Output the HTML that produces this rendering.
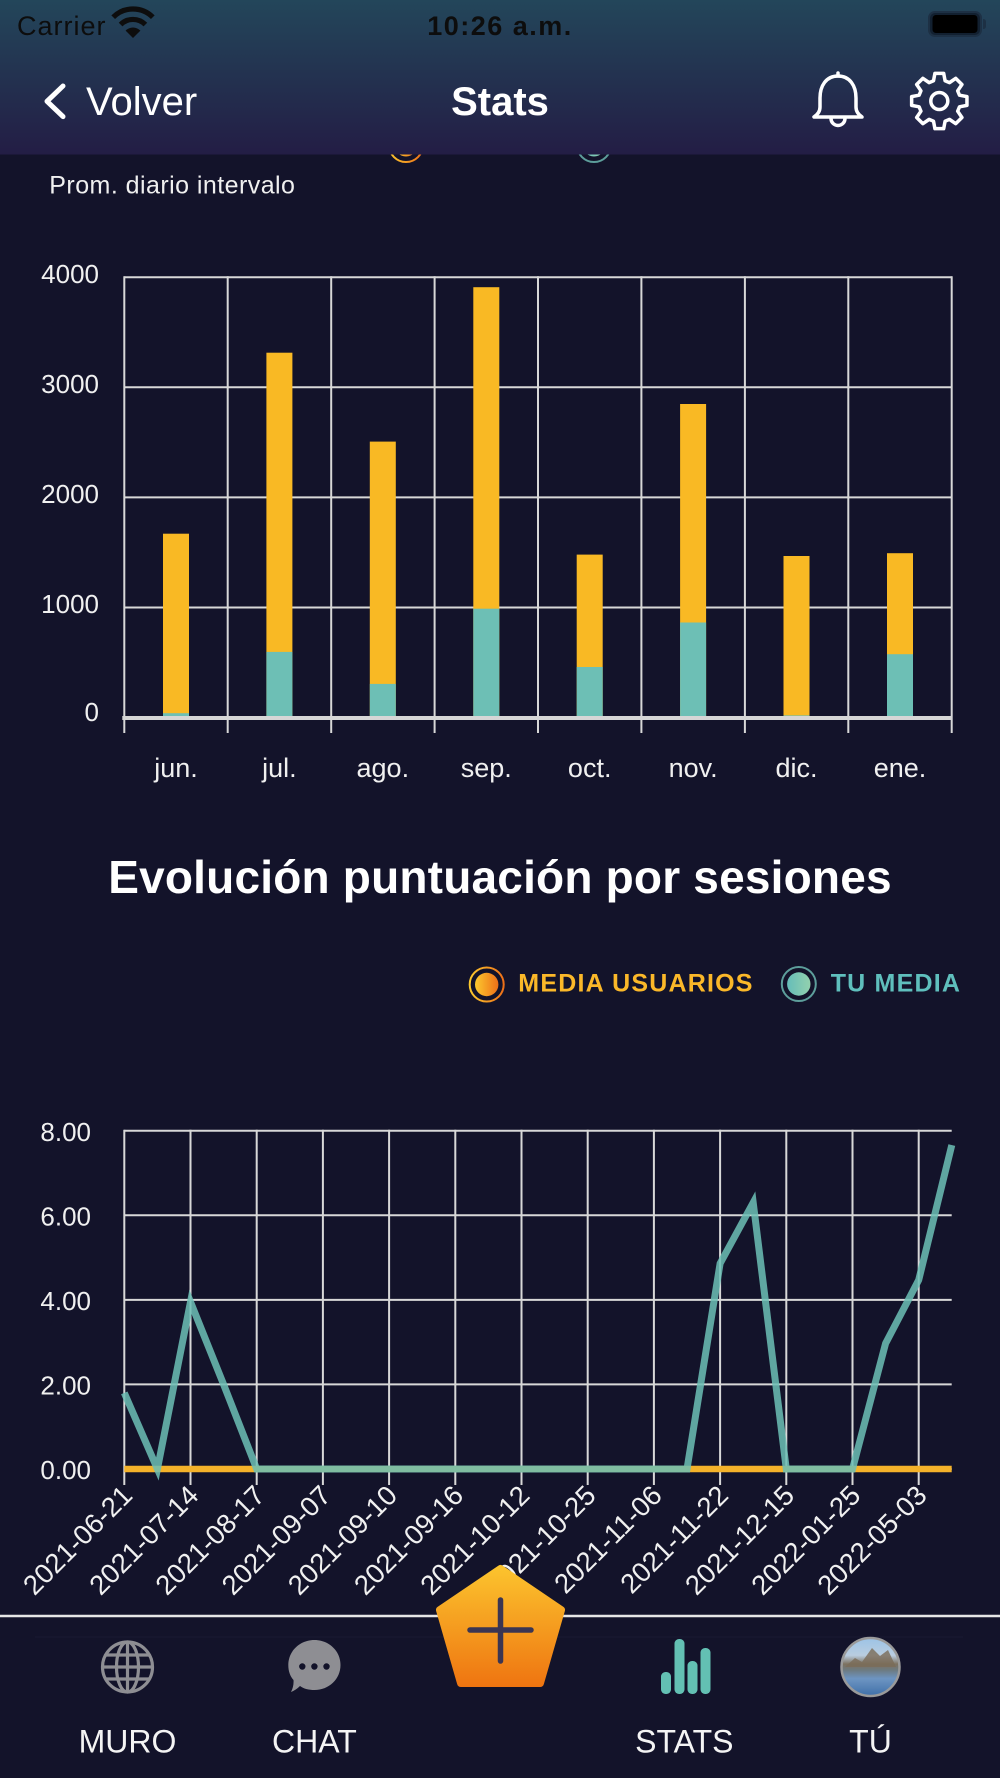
<!DOCTYPE html>
<html>
<head>
<meta charset="utf-8">
<style>
  html, body { margin:0; padding:0; background:#13132a; }
  body { width:1000px; height:1778px; overflow:hidden; }
  svg { display:block; }
  text { font-family: "Liberation Sans", "DejaVu Sans", sans-serif; }
</style>
</head>
<body>
<svg width="1000" height="1778" viewBox="0 0 1000 1778" xmlns="http://www.w3.org/2000/svg">
  <defs>
    <linearGradient id="hdr" x1="0" y1="0" x2="0" y2="1">
      <stop offset="0" stop-color="#23465a"/>
      <stop offset="1" stop-color="#231d45"/>
    </linearGradient>
    <linearGradient id="og" x1="0" y1="0" x2="1" y2="0">
      <stop offset="0" stop-color="#fcc82e"/>
      <stop offset="1" stop-color="#ee7018"/>
    </linearGradient>
    <linearGradient id="tg" x1="0" y1="0" x2="1" y2="0">
      <stop offset="0" stop-color="#66bdb9"/>
      <stop offset="1" stop-color="#93d1ae"/>
    </linearGradient>
    <linearGradient id="fab" gradientUnits="userSpaceOnUse" x1="0" y1="1565" x2="0" y2="1690">
      <stop offset="0" stop-color="#fcc52e"/>
      <stop offset="1" stop-color="#ee7210"/>
    </linearGradient>
    <linearGradient id="av" x1="0" y1="0" x2="0" y2="1">
      <stop offset="0" stop-color="#9cc3e6"/>
      <stop offset="0.3" stop-color="#b9cde0"/>
      <stop offset="0.45" stop-color="#7d715f"/>
      <stop offset="0.55" stop-color="#6d7a80"/>
      <stop offset="0.7" stop-color="#6d95c2"/>
      <stop offset="1" stop-color="#3f6fa8"/>
    </linearGradient>
  </defs>

  <!-- background -->
  <rect x="0" y="0" width="1000" height="1778" fill="#13132a"/>

  <!-- partial legend under header -->
  <circle cx="406" cy="145" r="17" fill="none" stroke="url(#og)" stroke-width="2"/>
  <circle cx="406" cy="145" r="11.5" fill="url(#og)"/>
  <circle cx="594" cy="145" r="17" fill="none" stroke="#5d9e9b" stroke-width="2"/>
  <circle cx="594" cy="145" r="11.5" fill="url(#tg)"/>

  <!-- header -->
  <rect x="0" y="0" width="1000" height="154.5" fill="url(#hdr)"/>
  <text x="17" y="35" font-size="27" fill="#0d0d0d" letter-spacing="1">Carrier</text>
  <!-- wifi -->
  <g fill="none" stroke="#0d0d0d" stroke-width="5.2">
    <path d="M120.6,24.6 A17.5,17.5 0 0 1 145.4,24.6"/>
    <path d="M113.2,17.2 A28,28 0 0 1 152.8,17.2"/>
  </g>
  <path d="M133,38 L125.6,30.6 A10.5,10.5 0 0 1 140.4,30.6 Z" fill="#0d0d0d"/>
  <text x="500" y="35" font-size="27" font-weight="bold" fill="#0d0d0d" text-anchor="middle" letter-spacing="1.5">10:26 a.m.</text>
  <!-- battery -->
  <rect x="929" y="12" width="52" height="24" rx="6" fill="#122030" stroke="#1d3044" stroke-width="2"/>
  <rect x="932.5" y="15" width="45" height="18" rx="3.5" fill="#000"/>
  <path d="M983,19 Q986,19 986,22 L986,26 Q986,29 983,29 Z" fill="#1d3044"/>

  <!-- nav -->
  <polyline points="63,86 47,101.3 63,116.6" fill="none" stroke="#fff" stroke-width="5" stroke-linecap="round" stroke-linejoin="round"/>
  <text x="86" y="115" font-size="40" fill="#fff">Volver</text>
  <text x="500" y="115" font-size="40" font-weight="bold" fill="#fff" text-anchor="middle">Stats</text>
  <!-- bell -->
  <g fill="none" stroke="#fff" stroke-width="3.5" stroke-linejoin="round" stroke-linecap="round">
    <path d="M838,76 C826,76 820,86 820,98 L820,107 Q820,113 814,117 L862,117 Q856,113 856,107 L856,98 C856,86 850,76 838,76 Z"/>
    <path d="M831,118.5 A7,7 0 0 0 845,118.5"/>
    <path d="M838,73 L838,76"/>
  </g>
  <!-- gear -->
  <g transform="translate(939.3,101)" fill="none" stroke="#fff" stroke-width="3.5" stroke-linejoin="round">
    <polygon points="20.19,-5.79 27.66,-4.38 27.66,4.38 20.19,5.79 18.37,10.18 22.65,16.46 16.46,22.65 10.18,18.37 5.79,20.19 4.38,27.66 -4.38,27.66 -5.79,20.19 -10.18,18.37 -16.46,22.65 -22.65,16.46 -18.37,10.18 -20.19,5.79 -27.66,4.38 -27.66,-4.38 -20.19,-5.79 -18.37,-10.18 -22.65,-16.46 -16.46,-22.65 -10.18,-18.37 -5.79,-20.19 -4.38,-27.66 4.38,-27.66 5.79,-20.19 10.18,-18.37 16.46,-22.65 22.65,-16.46 18.37,-10.18"/>
    <circle cx="0" cy="0" r="8.5"/>
  </g>

  <!-- subtitle -->
  <text x="49.3" y="193.3" font-size="25" fill="#f0f0f0" letter-spacing="0.45">Prom. diario intervalo</text>

  <!-- ============ BAR CHART ============ -->
  <g stroke="#d8d8d8" stroke-width="2">
    <line x1="124.3" y1="277.2" x2="951.7" y2="277.2"/>
    <line x1="124.3" y1="387.3" x2="951.7" y2="387.3"/>
    <line x1="124.3" y1="497.4" x2="951.7" y2="497.4"/>
    <line x1="124.3" y1="607.5" x2="951.7" y2="607.5"/>
    <line x1="124.3" y1="276.2" x2="124.3" y2="733"/>
    <line x1="227.7" y1="276.2" x2="227.7" y2="733"/>
    <line x1="331.2" y1="276.2" x2="331.2" y2="733"/>
    <line x1="434.6" y1="276.2" x2="434.6" y2="733"/>
    <line x1="538.0" y1="276.2" x2="538.0" y2="733"/>
    <line x1="641.4" y1="276.2" x2="641.4" y2="733"/>
    <line x1="744.9" y1="276.2" x2="744.9" y2="733"/>
    <line x1="848.3" y1="276.2" x2="848.3" y2="733"/>
    <line x1="951.7" y1="276.2" x2="951.7" y2="733"/>
  </g>
  <!-- bars -->
  <g fill="#f9b924">
    <rect x="163" y="533.7" width="26" height="184"/>
    <rect x="266.4" y="352.7" width="26" height="365"/>
    <rect x="369.8" y="441.6" width="26" height="276"/>
    <rect x="473.3" y="287.2" width="26" height="430.4"/>
    <rect x="576.7" y="554.6" width="26" height="163"/>
    <rect x="680.1" y="404.0" width="26" height="313.6"/>
    <rect x="783.5" y="556.0" width="26" height="161.6"/>
    <rect x="887.0" y="553.2" width="26" height="164.4"/>
  </g>
  <g fill="#6dbfb5">
    <rect x="163" y="713.2" width="26" height="4.4"/>
    <rect x="266.4" y="651.9" width="26" height="65.7"/>
    <rect x="369.8" y="683.9" width="26" height="33.7"/>
    <rect x="473.3" y="608.7" width="26" height="108.9"/>
    <rect x="576.7" y="667.0" width="26" height="50.6"/>
    <rect x="680.1" y="622.5" width="26" height="95.1"/>
    <rect x="783.5" y="715.4" width="26" height="2.2"/>
    <rect x="887.0" y="654.2" width="26" height="63.4"/>
  </g>
  <line x1="122.3" y1="718" x2="951.7" y2="718" stroke="#d6d6d6" stroke-width="4"/>
  <!-- y labels -->
  <g font-size="26" fill="#f0f0f0" text-anchor="end">
    <text x="99" y="283">4000</text>
    <text x="99" y="393">3000</text>
    <text x="99" y="503">2000</text>
    <text x="99" y="613">1000</text>
    <text x="99" y="721">0</text>
  </g>
  <!-- x labels -->
  <g font-size="27" fill="#f0f0f0" text-anchor="middle">
    <text x="176.0" y="777">jun.</text>
    <text x="279.4" y="777">jul.</text>
    <text x="382.8" y="777">ago.</text>
    <text x="486.3" y="777">sep.</text>
    <text x="589.7" y="777">oct.</text>
    <text x="693.1" y="777">nov.</text>
    <text x="796.5" y="777">dic.</text>
    <text x="900.0" y="777">ene.</text>
  </g>

  <!-- ============ LINE CHART ============ -->
  <text x="500" y="893" font-size="46" font-weight="bold" fill="#fff" text-anchor="middle" letter-spacing="0.2">Evolución puntuación por sesiones</text>

  <!-- legend -->
  <circle cx="486.7" cy="984.5" r="17" fill="none" stroke="url(#og)" stroke-width="2"/>
  <circle cx="486.7" cy="984.5" r="11.7" fill="url(#og)"/>
  <text x="518.3" y="991.7" font-size="25" font-weight="bold" fill="#fbb829" letter-spacing="1.2">MEDIA USUARIOS</text>
  <circle cx="798.8" cy="984" r="17" fill="none" stroke="#5d9e9b" stroke-width="2"/>
  <circle cx="798.8" cy="984" r="11.7" fill="url(#tg)"/>
  <text x="830.7" y="991.7" font-size="25" font-weight="bold" fill="#5fbfbd" letter-spacing="1.2">TU MEDIA</text>

  <!-- grid -->
  <g stroke="#d8d8d8" stroke-width="2">
    <line x1="124.3" y1="1130.7" x2="951.7" y2="1130.7"/>
    <line x1="124.3" y1="1215.3" x2="951.7" y2="1215.3"/>
    <line x1="124.3" y1="1299.9" x2="951.7" y2="1299.9"/>
    <line x1="124.3" y1="1384.4" x2="951.7" y2="1384.4"/>
    <line x1="124.3" y1="1469" x2="951.7" y2="1469"/>
    <line x1="124.3" y1="1129.7" x2="124.3" y2="1485"/>
    <line x1="190.5" y1="1129.7" x2="190.5" y2="1485"/>
    <line x1="256.7" y1="1129.7" x2="256.7" y2="1485"/>
    <line x1="322.9" y1="1129.7" x2="322.9" y2="1485"/>
    <line x1="389.1" y1="1129.7" x2="389.1" y2="1485"/>
    <line x1="455.3" y1="1129.7" x2="455.3" y2="1485"/>
    <line x1="521.5" y1="1129.7" x2="521.5" y2="1485"/>
    <line x1="587.7" y1="1129.7" x2="587.7" y2="1485"/>
    <line x1="653.9" y1="1129.7" x2="653.9" y2="1485"/>
    <line x1="720.1" y1="1129.7" x2="720.1" y2="1485"/>
    <line x1="786.3" y1="1129.7" x2="786.3" y2="1485"/>
    <line x1="852.5" y1="1129.7" x2="852.5" y2="1485"/>
    <line x1="918.7" y1="1129.7" x2="918.7" y2="1485"/>
  </g>
  <!-- series -->
  <line x1="124.3" y1="1469" x2="951.7" y2="1469" stroke="#f4b22a" stroke-width="6.5"/>
  <polyline fill="none" stroke="#6cbfb5" stroke-opacity="0.86" stroke-width="7" stroke-linejoin="miter" stroke-miterlimit="10"
    points="124.3,1392.9 157.4,1469 190.5,1301.9 223.6,1384.4 256.7,1469 687.0,1469 720.1,1263.5 753.2,1202.6 786.3,1469 852.5,1469 885.6,1343.4 918.7,1280.0 951.8,1145.1"/>
  <!-- y labels -->
  <g font-size="26" fill="#f0f0f0" text-anchor="end">
    <text x="91" y="1141">8.00</text>
    <text x="91" y="1225.5">6.00</text>
    <text x="91" y="1310">4.00</text>
    <text x="91" y="1394.5">2.00</text>
    <text x="91" y="1479">0.00</text>
  </g>
  <!-- x labels rotated -->
  <g font-size="27.5" fill="#f0f0f0" text-anchor="end">
    <text transform="translate(134,1497) rotate(-45)">2021-06-21</text>
    <text transform="translate(200.2,1497) rotate(-45)">2021-07-14</text>
    <text transform="translate(266.4,1497) rotate(-45)">2021-08-17</text>
    <text transform="translate(332.6,1497) rotate(-45)">2021-09-07</text>
    <text transform="translate(398.8,1497) rotate(-45)">2021-09-10</text>
    <text transform="translate(465,1497) rotate(-45)">2021-09-16</text>
    <text transform="translate(531.2,1497) rotate(-45)">2021-10-12</text>
    <text transform="translate(597.4,1497) rotate(-45)">2021-10-25</text>
    <text transform="translate(663.6,1497) rotate(-45)">2021-11-06</text>
    <text transform="translate(729.8,1497) rotate(-45)">2021-11-22</text>
    <text transform="translate(796,1497) rotate(-45)">2021-12-15</text>
    <text transform="translate(862.2,1497) rotate(-45)">2022-01-25</text>
    <text transform="translate(928.4,1497) rotate(-45)">2022-05-03</text>
  </g>

  <!-- ============ TAB BAR ============ -->
  <rect x="0" y="1617" width="1000" height="161" fill="#13132a"/>
  <line x1="0" y1="1616" x2="1000" y2="1616" stroke="#e6e6e6" stroke-width="2.5"/>
  <line x1="35" y1="1637" x2="963" y2="1637" stroke="#1a1a33" stroke-width="1"/>

  <!-- globe -->
  <g transform="translate(127.5,1667)" fill="none" stroke="#8e8e93" stroke-width="3.2">
    <circle r="25"/>
    <ellipse rx="11" ry="25"/>
    <line x1="0" y1="-25" x2="0" y2="25"/>
    <line x1="-25" y1="0" x2="25" y2="0"/>
    <line x1="-21.5" y1="-12" x2="21.5" y2="-12"/>
    <line x1="-21.5" y1="12" x2="21.5" y2="12"/>
  </g>
  <!-- chat -->
  <path d="M314.4,1640 C329,1640 340.5,1651 340.5,1665 C340.5,1679 329,1690 314.4,1690 C309,1690 304,1689 300,1686 Q296,1690 291,1692 Q294,1686 293.5,1680 C290,1676 288.3,1671 288.3,1665 C288.3,1651 300,1640 314.4,1640 Z" fill="#8e8e93"/>
  <g fill="#13132a">
    <circle cx="302.3" cy="1666.5" r="3.2"/>
    <circle cx="314.4" cy="1666.5" r="3.2"/>
    <circle cx="326.5" cy="1666.5" r="3.2"/>
  </g>
  <!-- stats icon -->
  <g fill="#63c0b3">
    <rect x="661" y="1672" width="10" height="22" rx="4.5"/>
    <rect x="674.5" y="1639" width="10" height="55" rx="4.5"/>
    <rect x="687.5" y="1661" width="10" height="33" rx="4.5"/>
    <rect x="700.5" y="1648" width="10" height="46" rx="4.5"/>
  </g>
  <!-- avatar -->
  <circle cx="870.5" cy="1667" r="29" fill="url(#av)" stroke="#9a9a9a" stroke-width="2.5"/>
  <path d="M845,1667 L855,1658 L862,1662 L872,1648 L880,1656 L888,1650 L896,1667 Z" fill="#7a6c58" opacity="0.8"/>

  <!-- labels -->
  <g font-size="32" fill="#f4f4f4" text-anchor="middle">
    <text x="127.5" y="1752.7">MURO</text>
    <text x="314.4" y="1752.7">CHAT</text>
    <text x="684.3" y="1752.7">STATS</text>
    <text x="870.5" y="1752.7">TÚ</text>
  </g>

  <!-- FAB -->
  <polygon points="500.5,1569 440,1610 461,1683 540,1683 561,1610" fill="url(#fab)" stroke="url(#fab)" stroke-width="8" stroke-linejoin="round"/>
  <g stroke="#3b3552" stroke-width="5.5" stroke-linecap="round">
    <line x1="500.5" y1="1600" x2="500.5" y2="1661"/>
    <line x1="470" y1="1630" x2="531" y2="1630"/>
  </g>
</svg>
</body>
</html>
